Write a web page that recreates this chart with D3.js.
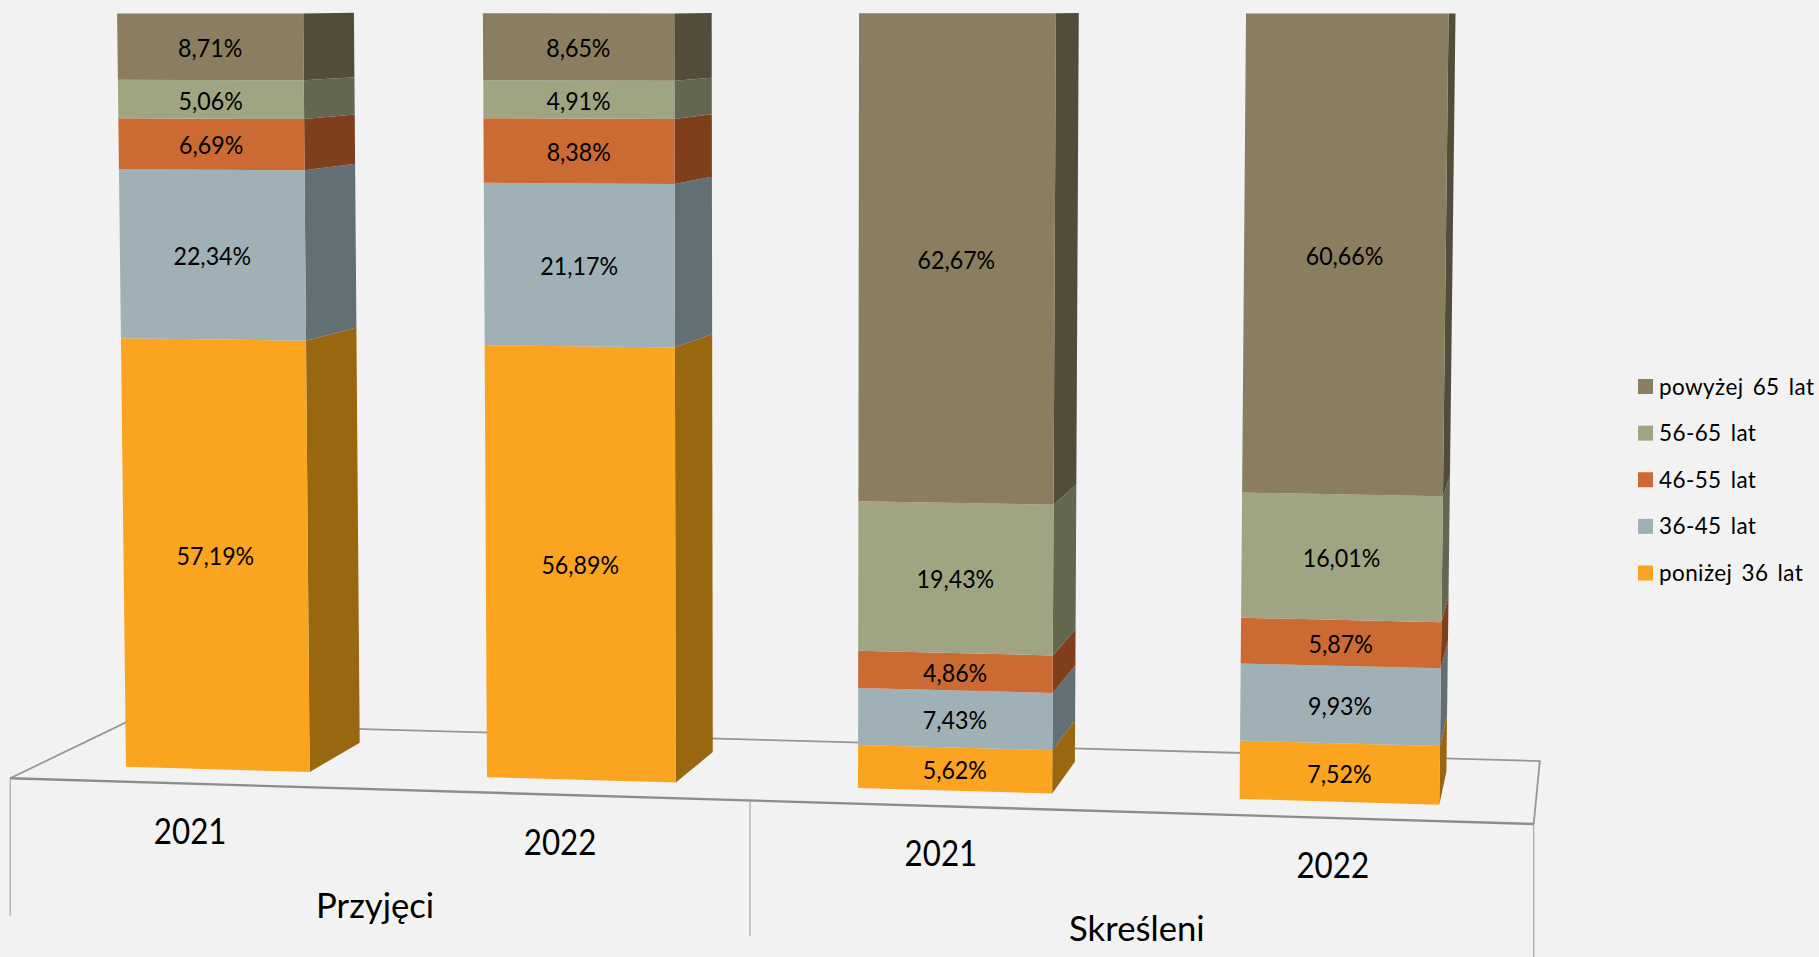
<!DOCTYPE html>
<html>
<head>
<meta charset="utf-8">
<title>Przyjęci i skreśleni</title>
<script src="https://cdn.jsdelivr.net/npm/d3@7"></script>
<style>
  html, body { margin: 0; padding: 0; background: #f2f2f2; overflow: hidden; }
  text { font-family: Lato, "Open Sans", sans-serif; fill: #000; }
</style>
</head>
<body>
<div id="chart"></div>
<script>
// chart values
const groups = ["Przyjęci", "Skreśleni"];
const years = ["2021", "2022"];
const ageKeys = ["poniżej 36 lat", "36-45 lat", "46-55 lat", "56-65 lat", "powyżej 65 lat"];
const przyjeci2021 = [57.19, 22.34, 6.69, 5.06, 8.71];
const przyjeci2022 = [56.89, 21.17, 8.38, 4.91, 8.65];
const skresleni2021 = [5.62, 7.43, 4.86, 19.43, 62.67];
const skresleni2022 = [7.52, 9.93, 5.87, 16.01, 60.66];
const barValues = [przyjeci2021, przyjeci2022, skresleni2021, skresleni2022];

const frontColors = ["#faa41f", "#9fb1b7", "#cb6a32", "#9fa583", "#8b7d60"];
const sideColors = ["#9a6711", "#626f75", "#7f3f1c", "#63674f", "#544c3a"];

const width = 1819, height = 957;

// Perspective calibration: where the corners of the front and back planes land
const frontPlane = [[126, 766.7], [1439.3, 804.7], [1448.6, 13.5], [117.1, 13.3]];
const backPlane = [[359.7, 742.7], [1446.4, 771.7], [1455.5, 13.3], [353.9, 12.7]];
const floor = { fl: [10.2, 778.3], fr: [1533.7, 824], br: [1539.8, 761], bl: [125.3, 722.6] };

// Maps the unit square to a quad (projective), so the bars converge like the 3D original
function homography(q) {
    const [[x0, y0], [x1, y1], [x2, y2], [x3, y3]] = q;
    const dx1 = x1 - x2, dx2 = x3 - x2, sx = x0 - x1 + x2 - x3;
    const dy1 = y1 - y2, dy2 = y3 - y2, sy = y0 - y1 + y2 - y3;
    const den = dx1 * dy2 - dx2 * dy1;
    const g = (sx * dy2 - dx2 * sy) / den;
    const h = (dx1 * sy - sx * dy1) / den;
    const a = x1 - x0 + g * x1, b = x3 - x0 + h * x3;
    const d = y1 - y0 + g * y1, e = y3 - y0 + h * y3;
    return (s, t) => {
        const w = g * s + h * t + 1;
        return [(a * s + b * t + x0) / w, (d * s + e * t + y0) / w];
    };
}

const barIds = d3.range(barValues.length);
const xBand = d3.scaleBand().domain(barIds).range([0, 1]).paddingInner(0.4877);
const yValue = d3.scaleLinear().domain([0, 100]).range([0, 1]);

// back plane calibration runs from the first bar's right edge to the last bar's
const backS = d3.scaleLinear().domain([xBand(0) + xBand.bandwidth(), 1]).range([0, 1]);
const front = homography(frontPlane);
const backH = homography(backPlane);
const back = (u, t) => backH(backS(u), t);

const svg = d3.select("#chart").append("svg")
    .attr("width", width)
    .attr("height", height)
    .style("display", "block");

svg.append("rect").attr("width", width).attr("height", height).attr("fill", "#f2f2f2");

const poly = d3.line();

// Floor of the chart
svg.append("path")
    .attr("d", poly([floor.fl, floor.bl, floor.br, floor.fr]))
    .attr("fill", "none")
    .attr("stroke", "#969696")
    .attr("stroke-width", 1.8);
svg.append("path")
    .attr("d", poly([floor.fl, floor.fr]))
    .attr("fill", "none")
    .attr("stroke", "#8c8c8c")
    .attr("stroke-width", 2.4);

// Multi level category axis under the floor
const edgeY = x => floor.fl[1] + (x - floor.fl[0]) * (floor.fr[1] - floor.fl[1]) / (floor.fr[0] - floor.fl[0]);
const groupEdges = [floor.fl[0], 750, floor.fr[0]];
const groupDrops = [[0, 137.5], [0, 135.5], [0, 133]];

groupEdges.forEach((x, i) => {
    svg.append("line")
        .attr("x1", x).attr("x2", x)
        .attr("y1", edgeY(x) + groupDrops[i][0])
        .attr("y2", edgeY(x) + groupDrops[i][1])
        .attr("stroke", "#a8a8a8")
        .attr("stroke-width", 1.2);
});

function squeezedText(x, y, str, size, squeeze) {
    return svg.append("text")
        .attr("transform", `translate(${x},${y}) scale(${squeeze},1)`)
        .attr("text-anchor", "middle")
        .attr("font-size", size)
        .text(str);
}

groups.forEach((g, gi) => {
    const x0 = groupEdges[gi], x1 = groupEdges[gi + 1];
    const yearX = d3.scaleBand().domain(years).range([x0, x1]);
    years.forEach(y => {
        const cx = yearX(y) + yearX.bandwidth() / 2 - 5;
        squeezedText(cx, edgeY(cx) + 60, y, 36, 0.87);
    });
    const gx = (x0 + x1) / 2 - 5;
    squeezedText(gx, edgeY(gx) + 128.7, g, 34, 1.02);
});

// Stacked bars, built with d3.stack and pushed through the perspective
const stackInput = barValues.map(vals => Object.fromEntries(ageKeys.map((k, i) => [k, vals[i]])));
const layers = d3.stack().keys(ageKeys)(stackInput);

const barG = svg.selectAll("g.bar")
    .data(barIds)
    .enter()
    .append("g")
    .attr("class", "bar");

barG.each(function(b) {
    const g = d3.select(this);
    const uL = xBand(b), uR = uL + xBand.bandwidth();
    layers.forEach((layer, i) => {
        const t0 = yValue(layer[b][0]), t1 = yValue(layer[b][1]);
        g.append("path")
            .attr("d", poly([front(uR, t0), back(uR, t0), back(uR, t1), front(uR, t1)]) + "Z")
            .attr("fill", sideColors[i]);
        g.append("path")
            .attr("d", poly([front(uL, t0), front(uR, t0), front(uR, t1), front(uL, t1)]) + "Z")
            .attr("fill", frontColors[i]);
    });
    layers.forEach(layer => {
        const v = layer[b][1] - layer[b][0];
        const [cx, cy] = front((uL + uR) / 2, yValue((layer[b][0] + layer[b][1]) / 2));
        squeezedText(cx, cy + 1, v.toFixed(2).replace(".", ",") + "%", 25.5, 0.91)
            .attr("dy", "0.36em");
    });
});

// Legend, top entry is the top of the stack
const legendY = d3.scalePoint()
    .domain(ageKeys.slice().reverse())
    .range([386.5, 573]);

const legend = svg.selectAll("g.legend")
    .data(ageKeys.slice().reverse())
    .enter()
    .append("g")
    .attr("class", "legend")
    .attr("transform", d => `translate(1638,${legendY(d)})`);

legend.append("rect")
    .attr("y", -7.5)
    .attr("width", 15)
    .attr("height", 15)
    .attr("fill", d => frontColors[ageKeys.indexOf(d)]);

legend.append("text")
    .attr("x", 21)
    .attr("dy", "0.36em")
    .attr("font-size", 22.5)
    .attr("letter-spacing", 0.4)
    .attr("word-spacing", 3)
    .text(d => d);
</script>
</body>
</html>
